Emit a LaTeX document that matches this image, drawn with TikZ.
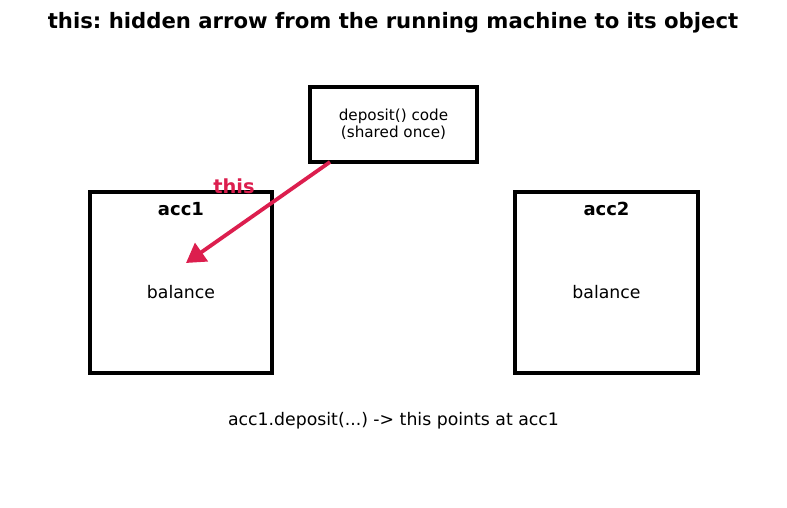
\documentclass[tikz,border=0pt]{standalone}
\usepackage{fontspec}
\setmainfont{DejaVu Sans}
\usetikzlibrary{arrows.meta}
\definecolor{thisred}{RGB}{220,30,78}
\frenchspacing
\begin{document}
\begin{tikzpicture}[x=1pt,y=1pt,
  box/.style={draw=black,line width=3.8pt,inner sep=0pt,anchor=center},
  lbl/.style={inner sep=0pt,anchor=center}]
\useasboundingbox (0,0) rectangle (787,508);
% title
\node[lbl,font=\bfseries\fontsize{21.2}{25}\selectfont] (title) at (393,485) {this: hidden arrow from the running machine to its object};
% code box
\node[box,minimum width=167pt,minimum height=75pt] (code) at (393.5,383.5) {};
\node[lbl,font=\fontsize{15.2}{17}\selectfont,align=center] (codetxt) at (393.5,384) {deposit() code\\(shared once)};
% acc boxes
\node[box,minimum width=182pt,minimum height=181pt] (acc1) at (181,225.5) {};
\node[box,minimum width=183pt,minimum height=181pt] (acc2) at (606.5,225.5) {};
\node[lbl,font=\bfseries\fontsize{18}{21}\selectfont] (acc1t) at (181,299) {acc1};
\node[lbl,font=\bfseries\fontsize{18}{21}\selectfont] (acc2t) at (606.5,299) {acc2};
\node[lbl,font=\fontsize{17.3}{20}\selectfont] (bal1) at (181,216) {balance};
\node[lbl,font=\fontsize{17.3}{20}\selectfont] (bal2) at (606.5,216) {balance};
% arrow
\coordinate (src) at (330,346);
\coordinate (tgt) at (186,245);
\draw[thisred,line width=3.8pt,-{Triangle[length=19pt,width=22pt]}] (src) -- (tgt);
\node[lbl,text=thisred,font=\bfseries\fontsize{19.4}{23}\selectfont] (thislbl) at (234,322) {this};
% caption
\node[lbl,font=\fontsize{17.3}{20}\selectfont] (cap) at (393.5,87) {acc1.deposit(...) -> this points at acc1};
\end{tikzpicture}
\end{document}
